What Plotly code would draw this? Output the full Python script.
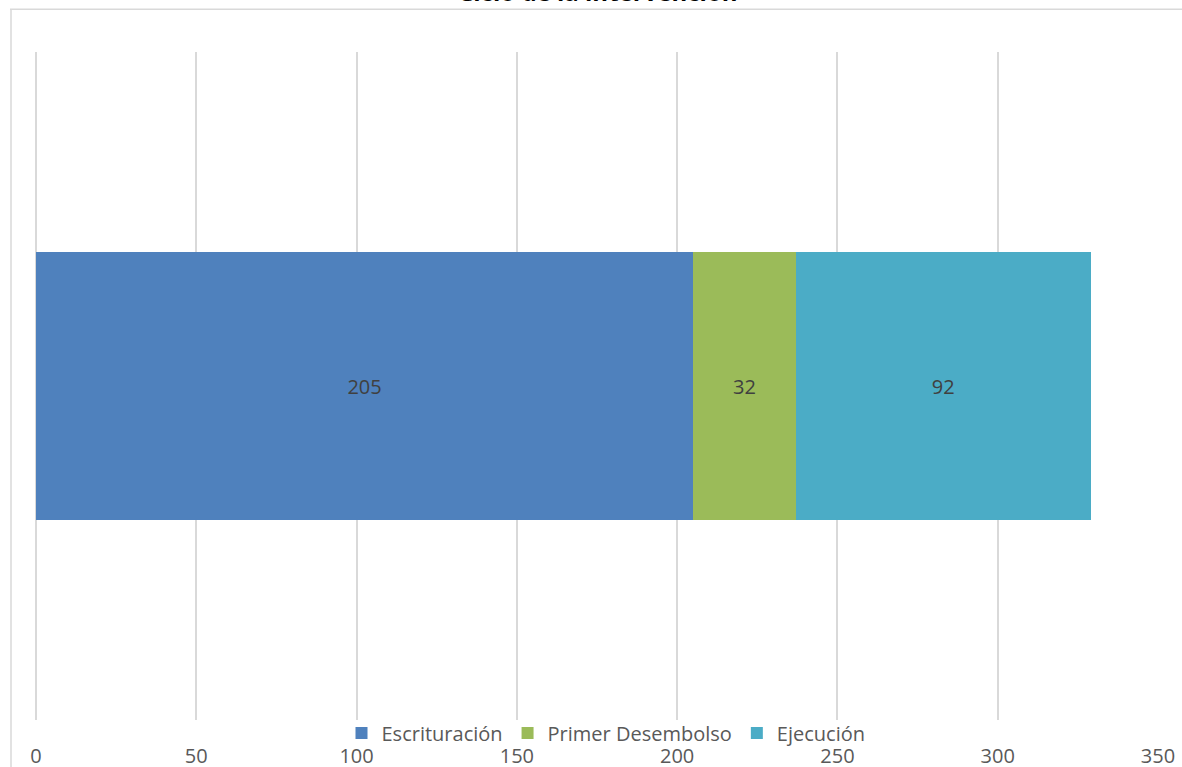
import plotly.graph_objects as go

categories = ["Ciclo"]
series_names = ["Escrituración", "Primer Desembolso", "Ejecución"]
series_values = [[205], [32], [92]]
colors = ["#4F81BD", "#9BBB59", "#4BACC6"]
tick_vals = [0, 50, 100, 150, 200, 250, 300, 350]

W, H = 1182, 767
L, R, T, B = 36, 24, 52, 47
pw, ph = W - L - R, H - T - B

def px_x(x):
    return (x - L) / pw

def px_y(y):
    return (H - B - y) / ph

fig = go.Figure()
for name, vals, col in zip(series_names, series_values, colors):
    fig.add_trace(go.Bar(
        y=categories, x=vals, name=name, orientation="h",
        marker=dict(color=col, line=dict(width=0)),
        text=[str(v) for v in vals], textposition="inside",
        insidetextanchor="middle",
        textfont=dict(color="#404040", size=20, family="Open Sans"),
    ))

fig.update_layout(
    width=W, height=H,
    margin=dict(l=L, r=R, t=T, b=B, autoexpand=False),
    barmode="stack", bargap=0.6,
    plot_bgcolor="white", paper_bgcolor="white",
    font=dict(family="Open Sans", color="#595959"),
    showlegend=True,
    legend=dict(orientation="h", xref="container", yref="container",
                x=(606 / W), xanchor="center", y=(H - 733) / H, yanchor="middle",
                font=dict(size=20, color="#595959"), bgcolor="rgba(0,0,0,0)",
                traceorder="normal", itemwidth=30),
    xaxis=dict(range=[0, 350], tickvals=tick_vals, showgrid=True, gridcolor="#D9D9D9",
               gridwidth=1.5, zeroline=True, zerolinecolor="#D9D9D9", zerolinewidth=1.5,
               showline=False, ticks="", tickfont=dict(size=20, color="#595959"),
               ticklabelstandoff=22, automargin=False),
    yaxis=dict(visible=False, automargin=False),
    annotations=[dict(text="<b>Ciclo de la intervención</b>", xref="paper", yref="paper",
                      x=px_x(598), y=px_y(10), xanchor="center", yanchor="bottom",
                      showarrow=False, font=dict(size=24, color="#000000"))],
    shapes=[
        dict(type="line", xref="paper", yref="paper", x0=px_x(10), x1=px_x(1200),
             y0=px_y(9.3), y1=px_y(9.3), line=dict(color="#D9D9D9", width=1.5)),
        dict(type="line", xref="paper", yref="paper", x0=px_x(11), x1=px_x(11),
             y0=px_y(9.3), y1=px_y(800), line=dict(color="#D9D9D9", width=1.5)),
    ],
)

fig.write_html("out.html")
